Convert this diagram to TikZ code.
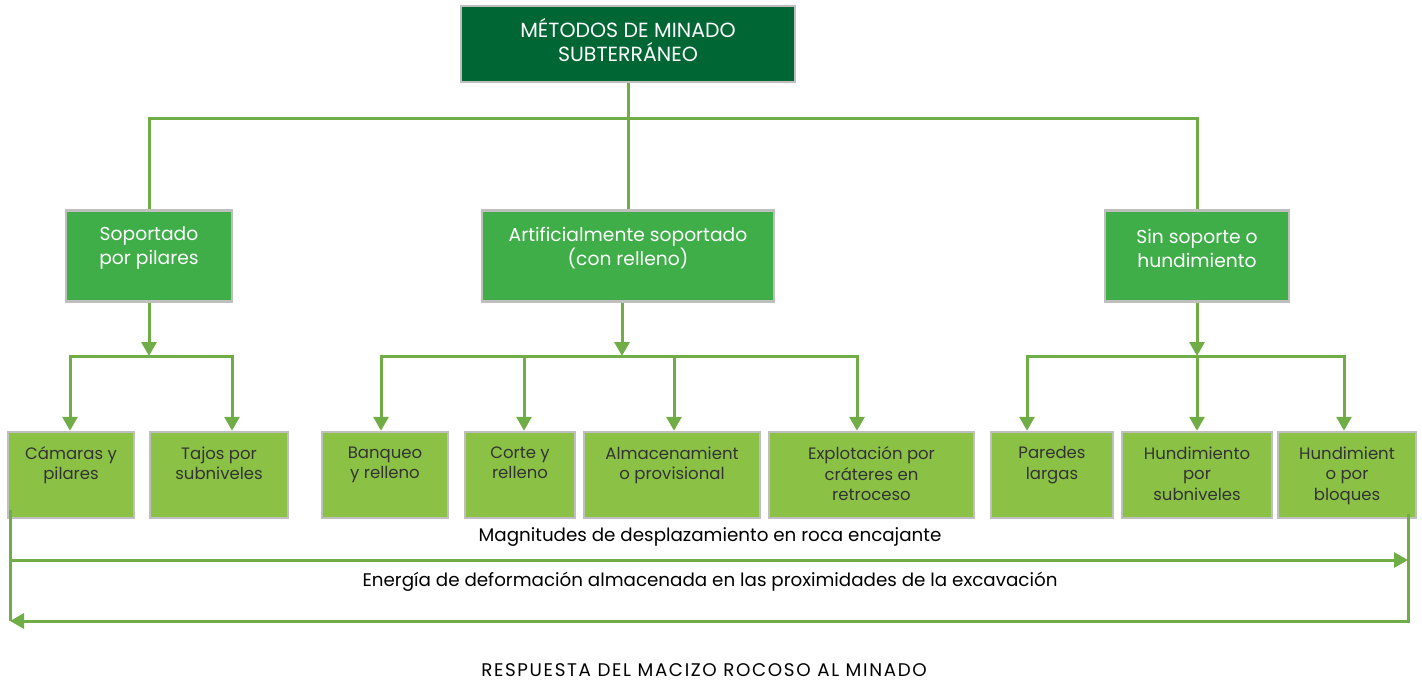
\documentclass[tikz,border=0pt]{standalone}
\usepackage{fontspec}
\setmainfont{Poppins}
\usetikzlibrary{arrows.meta}
\definecolor{minDark}{HTML}{006633}
\definecolor{minMid}{HTML}{3FAE49}
\definecolor{minLight}{HTML}{8BC145}
\definecolor{minLine}{HTML}{70AD47}
\definecolor{minEdge}{HTML}{BFBFBF}
\tikzset{
  min box/.style={rectangle, draw=minEdge, line width=2.5pt, inner sep=0pt},
  min top/.style={min box, fill=minDark},
  min class/.style={min box, fill=minMid, minimum height=91pt},
  min method/.style={min box, fill=minLight, minimum height=86pt},
  min head/.style={font=\fontsize{18.7}{24}\selectfont, text=white, align=center},
  min name/.style={font=\fontsize{16.5}{20.5}\selectfont, text=black!80, align=center, anchor=north},
  min note/.style={font=\fontsize{18.3}{22}\selectfont, text=black},
}
\tikzset{
  min link/.style={draw=minLine, line width=3pt},
  min flow/.style={min link, -{Triangle[width=15pt,length=14pt]}},
}

\begin{document}
\begin{tikzpicture}[x=1pt,y=-1pt]
  \useasboundingbox (0,0) rectangle (1422,682);
  % main box
  \node[min top, minimum width=334pt, minimum height=76pt] (top) at (628,44) {};
  \node[min head, font=\fontsize{20.5}{24}\selectfont] (top-t) at (628,40) {MÉTODOS DE MINADO\\SUBTERRÁNEO};
  % three support classes
  \foreach \n/\x/\w/\txt in {pil/149/166/{Soportado\\por pilares},
      rel/628/292/{Artificialmente soportado\\(con relleno)},
      hun/1197/184/{Sin soporte o\\hundimiento}} {
    \node[min class, minimum width=\w pt] (\n) at (\x,256) {};
    \node[min head] (\n-t) at (\x,248) {\txt};
  }
  % mining methods
  \foreach \n/\x/\w/\txt in {cam/71/126/{Cámaras y\\pilares},
      taj/219/138/{Tajos por\\subniveles},
      ban/385/126/{Banqueo\\y relleno},
      cor/520/110/{Corte y\\relleno},
      alm/672/176/{Almacenamient\\o provisional},
      exp/871.5/205/{Explotación por\\cráteres en\\retroceso},
      par/1052/122/{Paredes\\largas},
      hsu/1197/150/{Hundimiento\\por\\subniveles},
      hbl/1347/138/{Hundimient\\o por\\bloques}} {
    \node[min method, minimum width=\w pt] (\n) at (\x,475) {};
    \node[min name] (\n-t) at (\x,443) {\txt};
  }
  % tree from the main box
  \coordinate (hub) at (628,119);
  \draw[min link] (top.south) -- (hub);
  \draw[min link] (pil.north) |- (hub) -| (hun.north);
  \draw[min link] (hub) -- (rel.north);
  % busses under each class
  \coordinate (busP) at (149,356);
  \coordinate (busR) at (622,356);
  \coordinate (busH) at (1197,356);
  \draw[min flow] (pil.south) -- (busP);
  \draw[min flow] ([xshift=-6pt]rel.south) -- (busR);
  \draw[min flow] (hun.south) -- (busH);
  \draw[min flow] (busP) -| ([xshift=-1pt]cam.north);
  \draw[min flow] (busP) -| ([xshift=13pt]taj.north);
  \draw[min flow] (busR) -| ([xshift=-4pt]ban.north);
  \draw[min flow] ([xshift=4pt]cor.north |- busR) -- ([xshift=4pt]cor.north);
  \draw[min flow] ([xshift=2pt]alm.north |- busR) -- ([xshift=2pt]alm.north);
  \draw[min flow] (busR) -| ([xshift=-14.5pt]exp.north);
  \draw[min flow] (busH) -| ([xshift=-25pt]par.north);
  \draw[min flow] (busH) -- (hsu.north);
  \draw[min flow] (busH) -| ([xshift=-3pt]hbl.north);
  % response arrows
  \coordinate (dL) at (10,510);
  \coordinate (dR) at (1408,514);
  \coordinate (eL) at (10,621);
  \coordinate (eR) at (1408,560);
  \draw[min link] (dL) -- (eL);
  \draw[min flow] (dL) |- (eR);
  \draw[min flow] (dR) |- (eL);
  \node[min note] (disp) at (710,537) {Magnitudes de desplazamiento en roca encajante};
  \node[min note] (ener) at (710,582) {Energía de deformación almacenada en las proximidades de la excavación};
  \node[min note] (resp) at (704,670) {\addfontfeature{LetterSpace=9}RESPUESTA DEL MACIZO ROCOSO AL MINADO};
\end{tikzpicture}
\end{document}
